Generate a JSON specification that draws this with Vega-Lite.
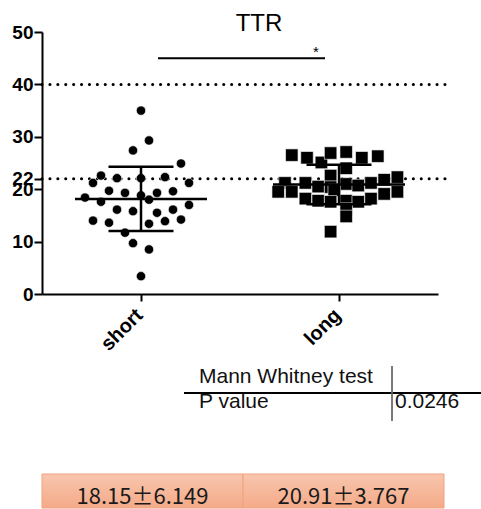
{
  "$schema": "https://vega.github.io/schema/vega-lite/v6.json",
  "padding": {"left": 11, "top": 12, "right": 0, "bottom": 0},
  "bounds": "flush",
  "spacing": 50,
  "resolve": {"scale": {"x": "independent", "y": "independent", "xOffset": "independent"}},
  "config": {"view": {"stroke": null}, "font": "Liberation Sans"},
  "datasets": {
    "pts": [
      {"group": "short", "value": 35.0, "slot": 0},
      {"group": "short", "value": 29.3, "slot": 1},
      {"group": "short", "value": 27.4, "slot": -1},
      {"group": "short", "value": 24.9, "slot": 5},
      {"group": "short", "value": 22.6, "slot": -5},
      {"group": "short", "value": 21.2, "slot": -6},
      {"group": "short", "value": 22.1, "slot": -3},
      {"group": "short", "value": 22.1, "slot": 0},
      {"group": "short", "value": 22.3, "slot": 3},
      {"group": "short", "value": 21.2, "slot": 6},
      {"group": "short", "value": 19.7, "slot": -4},
      {"group": "short", "value": 19.3, "slot": -2},
      {"group": "short", "value": 19.3, "slot": 2},
      {"group": "short", "value": 19.6, "slot": 4},
      {"group": "short", "value": 18.4, "slot": -7},
      {"group": "short", "value": 17.6, "slot": -5},
      {"group": "short", "value": 18.8, "slot": 0},
      {"group": "short", "value": 18.0, "slot": 1},
      {"group": "short", "value": 16.1, "slot": -3},
      {"group": "short", "value": 15.8, "slot": -1},
      {"group": "short", "value": 15.5, "slot": 2},
      {"group": "short", "value": 16.1, "slot": 4},
      {"group": "short", "value": 17.0, "slot": 6},
      {"group": "short", "value": 14.0, "slot": -6},
      {"group": "short", "value": 13.6, "slot": -4},
      {"group": "short", "value": 13.4, "slot": 1},
      {"group": "short", "value": 13.9, "slot": 3},
      {"group": "short", "value": 14.2, "slot": 5},
      {"group": "short", "value": 11.7, "slot": -2},
      {"group": "short", "value": 9.7, "slot": -1},
      {"group": "short", "value": 8.5, "slot": 1},
      {"group": "short", "value": 3.4, "slot": 0},
      {"group": "long", "value": 26.5, "slot": -5.9},
      {"group": "long", "value": 26.0, "slot": -4.0},
      {"group": "long", "value": 25.1, "slot": -2.2},
      {"group": "long", "value": 26.9, "slot": -1.05},
      {"group": "long", "value": 27.1, "slot": 0.9},
      {"group": "long", "value": 26.0, "slot": 2.85},
      {"group": "long", "value": 26.3, "slot": 4.85},
      {"group": "long", "value": 24.0, "slot": 0.9},
      {"group": "long", "value": 22.6, "slot": -1.05},
      {"group": "long", "value": 21.2, "slot": -6.75},
      {"group": "long", "value": 21.2, "slot": -4.2},
      {"group": "long", "value": 20.5, "slot": -2.6},
      {"group": "long", "value": 20.4, "slot": -1.05},
      {"group": "long", "value": 21.0, "slot": 0.9},
      {"group": "long", "value": 20.7, "slot": 2.4},
      {"group": "long", "value": 21.2, "slot": 4.0},
      {"group": "long", "value": 21.8, "slot": 5.65},
      {"group": "long", "value": 22.3, "slot": 7.3},
      {"group": "long", "value": 19.5, "slot": -7.6},
      {"group": "long", "value": 19.5, "slot": -5.9},
      {"group": "long", "value": 19.8, "slot": -0.6},
      {"group": "long", "value": 18.2, "slot": -4.2},
      {"group": "long", "value": 17.8, "slot": -2.6},
      {"group": "long", "value": 17.6, "slot": -1.05},
      {"group": "long", "value": 17.8, "slot": 0.9},
      {"group": "long", "value": 17.6, "slot": 2.4},
      {"group": "long", "value": 18.2, "slot": 4.0},
      {"group": "long", "value": 19.1, "slot": 5.65},
      {"group": "long", "value": 19.5, "slot": 7.3},
      {"group": "long", "value": 16.2, "slot": 0.9},
      {"group": "long", "value": 14.8, "slot": 0.9},
      {"group": "long", "value": 11.9, "slot": -1.05}
    ],
    "stats": [
      {"group": "short", "mean": 18.15, "lo": 12.0, "hi": 24.3, "label": "18.15±6.149"},
      {"group": "long", "mean": 20.91, "lo": 17.14, "hi": 24.68, "label": "20.91±3.767"}
    ]
  },
  "vconcat": [
    {
      "width": 396,
      "height": 262,
      "title": {"text": "TTR", "fontSize": 24, "fontWeight": "normal", "font": "Liberation Sans", "color": "black", "offset": -13, "dx": 19},
      "layer": [
        {
          "data": {"values": [{"ref": 40}, {"ref": 22}]},
          "mark": {"type": "rule", "strokeDash": [0.1, 7.8], "strokeCap": "round", "strokeWidth": 3, "color": "black", "xOffset": 7},
          "encoding": {
            "y": {
              "field": "ref", "type": "quantitative",
              "scale": {"domain": [0, 50], "nice": false},
              "axis": {"title": null, "values": [0, 10, 20, 22, 30, 40, 50], "labelFontSize": 19, "labelFontWeight": "bold", "labelFont": "Liberation Sans", "labelColor": "black", "domainColor": "black", "domainWidth": 2, "tickColor": "black", "tickWidth": 2, "tickSize": 8, "labelPadding": 1, "labelOverlap": false, "labelFlush": false, "labelBound": false, "grid": false}
            }
          }
        },
        {
          "data": {"name": "pts"},
          "transform": [{"filter": "datum.group === 'short'"}],
          "mark": {"type": "point", "shape": "circle", "filled": true, "size": 86, "fill": "black", "stroke": "white", "strokeWidth": 0.6, "opacity": 1},
          "encoding": {
            "x": {
              "field": "group", "type": "nominal",
              "scale": {"domain": ["short", "long"], "paddingInner": 0, "paddingOuter": 0},
              "axis": {"title": null, "labelAngle": -45, "labelAlign": "right", "labelBaseline": "alphabetic", "labelFontSize": 20, "labelFontWeight": "bold", "labelFont": "Liberation Sans", "labelColor": "black", "domainColor": "black", "domainWidth": 2, "tickColor": "black", "tickWidth": 2, "tickSize": 7, "labelPadding": 15, "labelOffset": 3, "grid": false}
            },
            "xOffset": {"field": "slot", "type": "quantitative", "scale": {"domain": [-12.375, 12.375]}},
            "y": {"field": "value", "type": "quantitative"}
          }
        },
        {
          "data": {"name": "pts"},
          "transform": [{"filter": "datum.group === 'long'"}],
          "mark": {"type": "point", "shape": "square", "filled": true, "size": 156, "fill": "black", "stroke": "white", "strokeWidth": 0.6, "opacity": 1},
          "encoding": {
            "x": {"field": "group", "type": "nominal"},
            "xOffset": {"field": "slot", "type": "quantitative"},
            "y": {"field": "value", "type": "quantitative"}
          }
        },
        {
          "data": {"name": "stats"},
          "mark": {"type": "rule", "strokeWidth": 2.5, "color": "black"},
          "encoding": {
            "x": {"field": "group", "type": "nominal"},
            "y": {"field": "lo", "type": "quantitative"},
            "y2": {"field": "hi"}
          }
        },
        {
          "data": {"name": "stats"},
          "mark": {"type": "tick", "size": 132, "thickness": 2.5, "color": "black", "opacity": 1},
          "encoding": {
            "x": {"field": "group", "type": "nominal"},
            "y": {"field": "mean", "type": "quantitative"}
          }
        },
        {
          "data": {"name": "stats"},
          "mark": {"type": "tick", "size": 65, "thickness": 2.5, "color": "black", "opacity": 1},
          "encoding": {
            "x": {"field": "group", "type": "nominal"},
            "y": {"field": "lo", "type": "quantitative"}
          }
        },
        {
          "data": {"name": "stats"},
          "mark": {"type": "tick", "size": 65, "thickness": 2.5, "color": "black", "opacity": 1},
          "encoding": {
            "x": {"field": "group", "type": "nominal"},
            "y": {"field": "hi", "type": "quantitative"}
          }
        },
        {
          "data": {"values": [{"p": 45}]},
          "mark": {"type": "rule", "strokeWidth": 2, "color": "black", "xOffset": 17, "x2Offset": -14},
          "encoding": {
            "x": {"datum": "short", "type": "nominal"},
            "x2": {"datum": "long"},
            "y": {"field": "p", "type": "quantitative"}
          }
        },
        {
          "data": {"values": [{"p": 45, "t": "*"}]},
          "mark": {"type": "text", "fontSize": 15, "color": "black", "align": "center", "baseline": "alphabetic", "dx": -23, "dy": -1},
          "encoding": {
            "x": {"datum": "long", "type": "nominal"},
            "y": {"field": "p", "type": "quantitative"},
            "text": {"field": "t"}
          }
        }
      ]
    },
    {
      "width": 440,
      "height": 80,
      "data": {"values": [
        {"row": "header", "col": "label", "text": "Mann Whitney test"},
        {"row": "p", "col": "label", "text": "P value"},
        {"row": "p", "col": "value", "text": "0.0246"}
      ]},
      "layer": [
        {
          "mark": {"type": "text", "align": "left", "baseline": "middle", "fontSize": 21, "font": "Liberation Sans", "color": "#111111"},
          "encoding": {
            "x": {"field": "col", "type": "nominal", "scale": {"type": "point", "domain": ["label", "value"], "range": [157, 353], "padding": 0}, "axis": null},
            "y": {"field": "row", "type": "nominal", "scale": {"type": "point", "domain": ["header", "p"], "range": [33, 58], "padding": 0}, "axis": null},
            "text": {"field": "text"}
          }
        },
        {
          "mark": {"type": "rule", "strokeWidth": 2, "color": "black", "xOffset": -15, "x2Offset": 87, "yOffset": 16},
          "encoding": {
            "x": {"datum": "label", "type": "nominal"},
            "x2": {"datum": "value"},
            "y": {"datum": "header", "type": "nominal"}
          }
        },
        {
          "mark": {"type": "rule", "strokeWidth": 1, "color": "#666666", "xOffset": -3, "yOffset": -11, "y2Offset": 19},
          "encoding": {
            "x": {"datum": "value", "type": "nominal"},
            "y": {"datum": "header", "type": "nominal"},
            "y2": {"datum": "p"}
          }
        }
      ]
    },
    {
      "width": 402,
      "height": 34,
      "data": {"name": "stats"},
      "layer": [
        {
          "mark": {
            "type": "rect",
            "color": {"gradient": "linear", "x1": 0, "y1": 0, "x2": 0, "y2": 1, "stops": [{"offset": 0, "color": "#f8c6ae"}, {"offset": 1, "color": "#f4aa88"}]},
            "stroke": "#f0a27e",
            "strokeWidth": 1
          },
          "encoding": {
            "x": {"field": "group", "type": "nominal", "scale": {"type": "band", "domain": ["short", "long"], "paddingInner": 0, "paddingOuter": 0}, "axis": null},
            "y": {"datum": "mean ± SD", "type": "nominal", "scale": {"type": "band", "paddingInner": 0, "paddingOuter": 0}, "axis": null}
          }
        },
        {
          "mark": {"type": "text", "fontSize": 22, "font": "Noto Sans CJK SC", "color": "#1a1a1a", "dy": 6},
          "encoding": {
            "x": {"field": "group", "type": "nominal"},
            "y": {"datum": "mean ± SD", "type": "nominal"},
            "text": {"field": "label"}
          }
        }
      ]
    }
  ]
}
